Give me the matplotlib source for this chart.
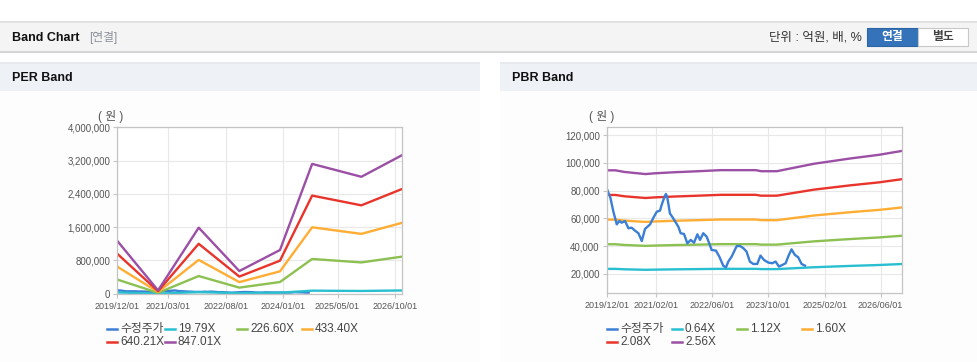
import matplotlib
matplotlib.use("Agg")
import matplotlib.pyplot as plt
import matplotlib.dates as mdates
from matplotlib.patches import Rectangle
from matplotlib.lines import Line2D
import numpy as np

plt.rcParams['font.family'] = ['Liberation Sans', 'Noto Sans CJK KR']

# ---- data ----
# adjusted share price (수정주가), won
price_dates = ["2019-12-01", "2020-01-01", "2020-01-28", "2020-02-26", "2020-03-19", "2020-04-09",
               "2020-05-08", "2020-06-06", "2020-07-04", "2020-08-02", "2020-09-01", "2020-09-30",
               "2020-10-28", "2020-12-11", "2021-01-09", "2021-02-07", "2021-03-07", "2021-03-21",
               "2021-04-10", "2021-04-27", "2021-05-09", "2021-06-01", "2021-06-30", "2021-08-13",
               "2021-09-02", "2021-10-01", "2021-10-30", "2021-11-28", "2021-12-27", "2022-01-25",
               "2022-02-17", "2022-03-17", "2022-04-15", "2022-05-08", "2022-05-28", "2022-07-05",
               "2022-08-03", "2022-09-07", "2022-09-30", "2022-10-20", "2022-11-18", "2023-01-01",
               "2023-01-30", "2023-02-28", "2023-03-27", "2023-04-25", "2023-05-24", "2023-06-28",
               "2023-07-26", "2023-08-25", "2023-10-01", "2023-11-05", "2023-12-04", "2024-01-02",
               "2024-02-01", "2024-02-29", "2024-03-28", "2024-04-20", "2024-05-19", "2024-06-17",
               "2024-07-16", "2024-08-14"]
price_values = [81600, 75200, 64800, 55700, 58100, 56900, 58100, 52900, 53300, 51200, 49300, 43700,
                52400, 55700, 60500, 64800, 65600, 69600, 74400, 77600, 75200, 63600, 60000, 54000,
                49300, 48800, 42000, 44500, 42500, 48500, 44500, 49300, 46900, 42000, 37300, 36800,
                32500, 25800, 24800, 28900, 32500, 40100, 40100, 38500, 36100, 28900, 27200, 27200,
                33200, 30100, 28200, 27700, 28900, 25300, 26500, 27700, 33700, 37700, 33700, 32000,
                27200, 26000]

# PER band
per_dates = ["2019-12-01", "2020-12-01", "2021-12-01", "2022-12-01", "2023-12-01",
             "2024-09-15", "2025-12-01", "2026-12-01"]
per_1979 = [29700, 1900, 37100, 12700, 24500, 72900, 65700, 77800]
per_22660 = [339700, 21300, 424700, 145700, 281000, 834800, 751900, 890800]
per_43340 = [649700, 40700, 812200, 278700, 537400, 1596600, 1438000, 1703700]
per_64021 = [959700, 60200, 1199800, 411700, 793900, 2358500, 2124200, 2516700]
per_84701 = [1269700, 79600, 1587300, 544600, 1050300, 3120400, 2810400, 3329600]
per_labels = ["수정주가", "19.79X", "226.60X", "433.40X", "640.21X", "847.01X"]
per_xticks = ["2019-12-01", "2021-03-01", "2022-08-01", "2024-01-01", "2025-05-01", "2026-10-01"]
per_yticks = [0, 800000, 1600000, 2400000, 3200000, 4000000]

# PBR band
pbr_dates = ["2019-12-01", "2020-02-15", "2020-05-01", "2020-11-01", "2021-01-15", "2021-07-01",
             "2022-02-01", "2022-08-15", "2023-06-15", "2023-08-01", "2023-12-15", "2024-03-15",
             "2024-11-01", "2025-09-15", "2026-05-15", "2026-12-01"]
pbr_064 = [23650, 23650, 23360, 22980, 23100, 23300, 23490, 23680, 23680, 23490, 23490, 23870,
           24830, 25790, 26430, 27140]
pbr_112 = [41380, 41380, 40880, 40210, 40430, 40770, 41100, 41440, 41440, 41100, 41100, 41780,
           43460, 45140, 46260, 47490]
pbr_160 = [59120, 59120, 58400, 57440, 57760, 58240, 58720, 59200, 59200, 58720, 58720, 59680,
           62080, 64480, 66080, 67840]
pbr_208 = [76860, 76860, 75920, 74670, 75090, 75710, 76340, 76960, 76960, 76340, 76340, 77580,
           80700, 83820, 85900, 88190]
pbr_256 = [94590, 94590, 93440, 91900, 92420, 93180, 93950, 94720, 94720, 93950, 93950, 95490,
           99330, 103170, 105730, 108540]
pbr_labels = ["수정주가", "0.64X", "1.12X", "1.60X", "2.08X", "2.56X"]
pbr_xticks = ["2019-12-01", "2021-02-01", "2022-06-01", "2023-10-01", "2025-02-01", "2026-06-01"]
pbr_yticks = [20000, 40000, 60000, 80000, 100000, 120000]

colors = ["#3a7fd5", "#29bfd0", "#8cc152", "#ffad33", "#e8342a", "#9b4fa5"]

W, H = 978, 362
fig = plt.figure(figsize=(W / 100, H / 100), dpi=100)


def rect(x, y, w, h, fc, ec="none", lw=0):
    fig.add_artist(Rectangle((x / W, 1 - (y + h) / H), w / W, h / H, transform=fig.transFigure,
                             facecolor=fc, edgecolor=ec, linewidth=lw, zorder=-2))


def ftext(x, y, s, **kw):
    fig.text(x / W, 1 - y / H, s, va="center", **kw)


# top bar
rect(0, 21, W, 2, "#e2e2e2")
rect(0, 23, W, 29, "#f4f4f4")
rect(0, 51, W, 2, "#d6d6d6")
ftext(12, 38, "Band Chart", fontsize=9, fontweight="bold", color="#111111")
ftext(89, 38, "[연결]", fontsize=8.5, color="#8a8f99")
ftext(862, 38, "단위 : 억원, 배, %", fontsize=9, color="#333333", ha="right")
rect(867, 28, 51, 18, "#3473b9", "#2c64a5", 0.8)
ftext(892.5, 37, "연결", fontsize=8.5, fontweight="bold", color="white", ha="center")
rect(918, 28, 50, 18, "white", "#c8c8c8", 0.8)
ftext(943, 37, "별도", fontsize=8.5, fontweight="bold", color="#444444", ha="center")

# panel headers
for px0, pw, title in [(0, 480, "PER Band"), (500, 478, "PBR Band")]:
    rect(px0, 62, pw, 2, "#e6e9ee")
    rect(px0, 64, pw, 27, "#eef2f7")
    rect(px0, 91, pw, H - 91, "#fdfdfd")
    ftext(px0 + 12, 78, title, fontsize=9, fontweight="bold", color="#111111")


def setup(ax, xticks, yticks, ylim):
    ax.set_xlim(np.datetime64("2019-12-01"), np.datetime64("2026-12-01"))
    ax.set_ylim(*ylim)
    ax.set_xticks([np.datetime64(d) for d in xticks])
    ax.xaxis.set_major_formatter(mdates.DateFormatter("%Y/%m/%d"))
    ax.set_yticks(yticks)
    ax.set_yticklabels([f"{v:,}" for v in yticks])
    ax.grid(True, color="#e8e8e8", linewidth=0.8)
    ax.set_axisbelow(True)
    for s in ax.spines.values():
        s.set_color("#c4c4c4")
        s.set_linewidth(0.9)
    ax.tick_params(axis="both", colors="#c4c4c4", labelcolor="#555555", labelsize=7, length=3,
                   width=0.8, pad=2)
    ax.tick_params(axis="x", labelsize=6.5, pad=3)
    ax.set_facecolor("white")


def legend(x0s, y0s, labels):
    for (x, y), lab, c in zip(zip(x0s, y0s), labels, colors):
        fig.add_artist(Line2D([x / W, (x + 10) / W], [1 - y / H, 1 - y / H], color=c, lw=1.8,
                              transform=fig.transFigure))
        ftext(x + 13, y, lab, fontsize=8.5, color="#444444")


# PER chart
ax1 = fig.add_axes([117.3 / W, 1 - 293.7 / H, (402 - 117.3) / W, (293.7 - 127.3) / H])
pd_ = [np.datetime64(d) for d in price_dates]
ed = [np.datetime64(d) for d in per_dates]
ax1.plot(pd_, price_values, color=colors[0], lw=1.7)
for vals, c in zip([per_1979, per_22660, per_43340, per_64021, per_84701], colors[1:]):
    ax1.plot(ed, vals, color=c, lw=1.7)
setup(ax1, per_xticks, per_yticks, (0, 4000000))
ftext(111, 116, "( 원 )", fontsize=8.5, color="#555555", ha="center")
legend([107, 165, 237, 302, 107, 165], [329, 329, 329, 329, 342, 342], per_labels)

# PBR chart
ax2 = fig.add_axes([606.7 / W, 1 - 292.7 / H, (901.7 - 606.7) / W, (292.7 - 126.7) / H])
bd = [np.datetime64(d) for d in pbr_dates]
for vals, c in zip([pbr_064, pbr_112, pbr_160, pbr_208, pbr_256], colors[1:]):
    ax2.plot(bd, vals, color=c, lw=1.7)
ax2.plot(pd_, price_values, color=colors[0], lw=1.7)
setup(ax2, pbr_xticks, pbr_yticks, (6500, 126000))
ftext(602, 116, "( 원 )", fontsize=8.5, color="#555555", ha="center")
legend([607, 672, 737, 802, 607, 672], [329, 329, 329, 329, 342, 342], pbr_labels)

fig.savefig("out.png", dpi=100)
